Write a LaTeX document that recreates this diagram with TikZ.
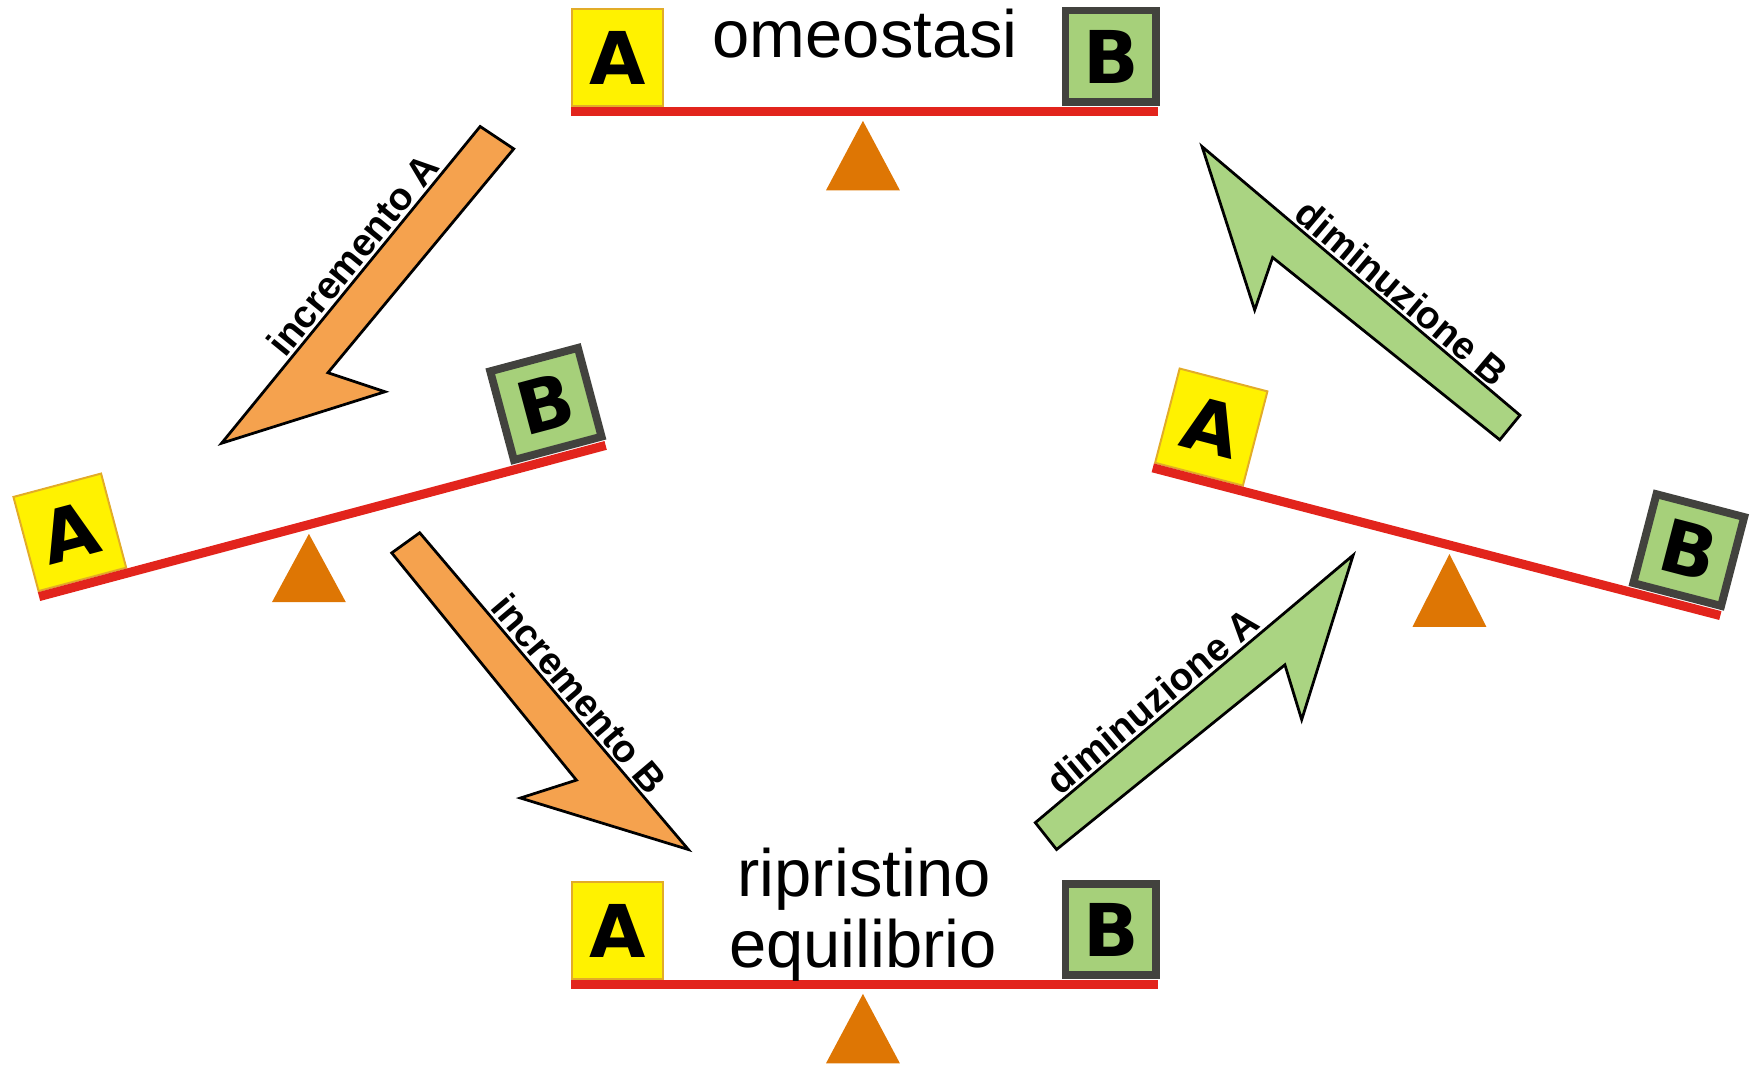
\documentclass[tikz,border=0pt]{standalone}
\usepackage{fontspec}
\setmainfont{Liberation Sans}
\newfontfamily\weightfont{DejaVu Sans}
\usepackage{xcolor}
\usepackage{tikz}
\usetikzlibrary{arrows.meta,positioning,calc}
\definecolor{weightyellow}{RGB}{255,242,0}
\definecolor{yellowedge}{RGB}{226,172,40}
\definecolor{weightgreen}{RGB}{166,208,122}
\definecolor{greenedge}{RGB}{66,66,62}
\definecolor{beamred}{RGB}{226,36,28}
\definecolor{pivotorange}{RGB}{222,118,4}
\definecolor{uporange}{RGB}{245,162,78}
\definecolor{downgreen}{RGB}{170,212,130}

\begin{document}
\begin{tikzpicture}[x=0.01cm, y=-0.01cm,
  beam/.style={draw=beamred, line width=2.3pt},
  pivot/.style={fill=pivotorange},
  weightA/.style={draw=yellowedge, fill=weightyellow, line width=0.5pt, minimum width=0.81cm, minimum height=0.87cm, inner sep=0pt, font=\weightfont\bfseries\fontsize{18.5}{18.5}\selectfont},
  weightB/.style={draw=greenedge, fill=weightgreen, line width=2pt, minimum width=0.81cm, minimum height=0.82cm, inner sep=0pt, font=\weightfont\bfseries\fontsize{18.5}{18.5}\selectfont},
  caption/.style={font=\fontsize{17}{18}\selectfont, anchor=base, inner sep=0pt},
  flowarrow/.style={draw=black, line width=0.7pt, line join=miter},
  arrowlabel/.style={font=\bfseries\fontsize{9.8}{10}\selectfont, sloped, above, inner sep=0.6pt}
]
\useasboundingbox (0,0) rectangle (1568,955);

% top balance: omeostasi
\begin{scope}[shift={(772.5,100)}]
  \node[weightA, anchor=south west] (top_A) at (-262,-4) {A};
  \node[weightB, anchor=south east] (top_B) at (264,-5) {B};
  \draw[beam] (-262,0) -- (262,0);
\end{scope}
\node[caption] (homeo) at (773,51) {omeostasi};
\fill[pivot] (771,108) -- (804,170) -- (738,170) -- cycle;

% left balance, A raised
\begin{scope}[shift={(288,465.5)}, rotate=14.94, transform shape]
  \node[weightA, anchor=south west] (left_A) at (-262,-4) {A};
  \node[weightB, anchor=south east] (left_B) at (264,-5) {B};
  \draw[beam] (-262,0) -- (262,0);
\end{scope}
\fill[pivot] (276,477) -- (309,538) -- (243,538) -- cycle;

% right balance, B raised
\begin{scope}[shift={(1283.5,484)}, rotate=-14.59, transform shape]
  \node[weightA, anchor=south west] (right_A) at (-262,-4) {A};
  \node[weightB, anchor=south east] (right_B) at (264,-5) {B};
  \draw[beam] (-262,0) -- (262,0);
\end{scope}
\fill[pivot] (1295,495) -- (1328,560) -- (1262,560) -- cycle;

% bottom balance: ripristino equilibrio
\begin{scope}[shift={(772.5,880)}]
  \node[weightA, anchor=south west] (bot_A) at (-262,-4) {A};
  \node[weightB, anchor=south east] (bot_B) at (264,-5) {B};
  \draw[beam] (-262,0) -- (262,0);
\end{scope}
\node[caption] (restore1) at (772,801) {ripristino};
\node[caption] (restore2) at (771,864) {equilibrio};
\fill[pivot] (771,888) -- (804,950) -- (738,950) -- cycle;

% block arrows
\draw[flowarrow, fill=uporange] (198,396) -- node[arrowlabel, pos=0.56] {incremento A} (429,113)
  -- (459,133) -- (293,333) -- (344,350) -- cycle;
\draw[flowarrow, fill=uporange] (375,476) -- node[arrowlabel, pos=0.544] {incremento B} (615,759)
  -- (465,713) -- (515,697) -- (350,494) -- cycle;
\draw[flowarrow, fill=downgreen] (925,735) -- node[arrowlabel, pos=0.404] {diminuzione A} (1209,496)
  -- (1163,643) -- (1148,594) -- (944,759) -- cycle;
\draw[flowarrow, fill=downgreen] (1074,131) -- node[arrowlabel, pos=0.594] {diminuzione B} (1358,371)
  -- (1340,393) -- (1137,230) -- (1121,277) -- cycle;
\end{tikzpicture}
\end{document}
